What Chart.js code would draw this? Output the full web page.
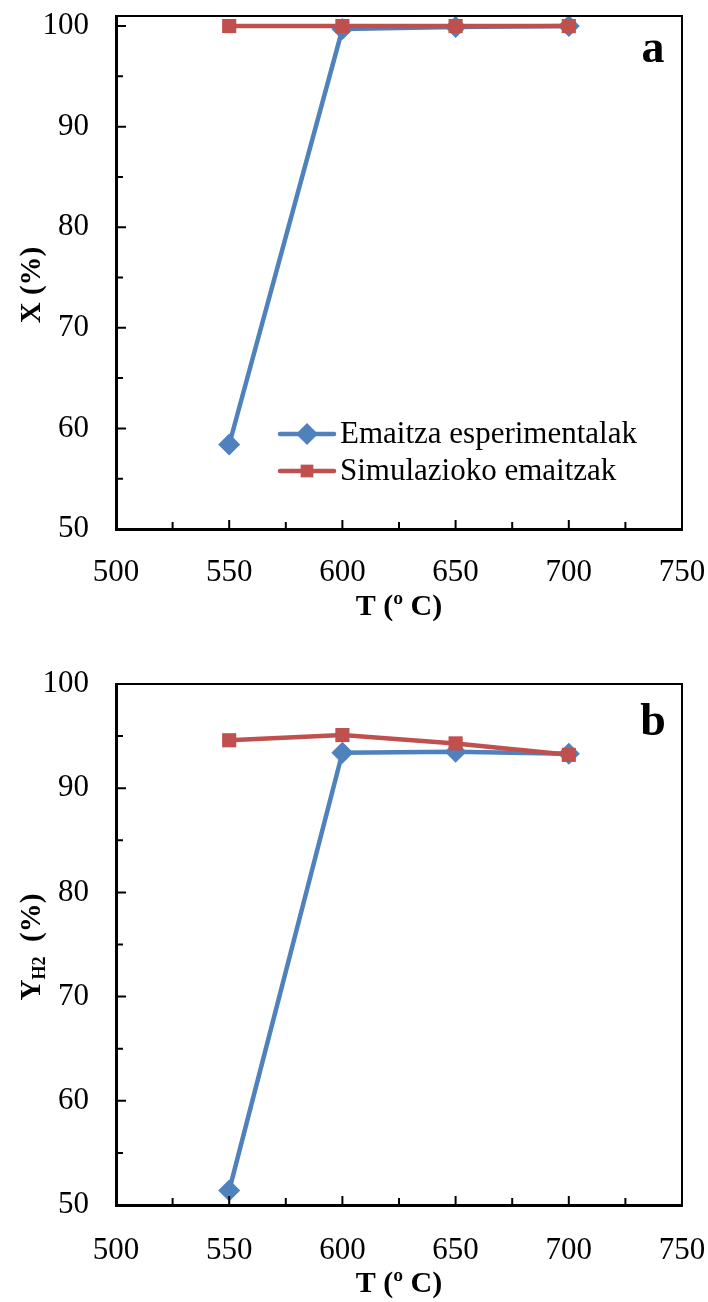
<!DOCTYPE html>
<html>
<head>
<meta charset="utf-8">
<script src="https://cdn.jsdelivr.net/npm/chart.js@4.4.1/dist/chart.umd.min.js"></script>
<style>
  html, body { margin: 0; padding: 0; background: #fff; }
  .panel { position: relative; width: 708px; height: 651px; }
</style>
</head>
<body>
<div class="panel"><canvas id="chartA"></canvas></div>
<div class="panel"><canvas id="chartB"></canvas></div>
<script>
// temperatures (ºC)
const temps = [550, 600, 650, 700];
const seriesNames = ['Emaitza esperimentalak', 'Simulazioko emaitzak'];

// a: conversion X (%)
const convExp = [58.4, 99.7, 99.9, 100.0];
const convSim = [100.0, 100.0, 100.0, 100.0];

// b: H2 yield (%)
const yieldExp = [51.4, 93.4, 93.5, 93.3];
const yieldSim = [94.6, 95.1, 94.3, 93.2];

const xTicks = [500, 550, 600, 650, 700, 750];
const xMinor = [525, 575, 625, 675, 725];
const yTicks = [50, 60, 70, 80, 90, 100];
const yMinor = [55, 65, 75, 85, 95];

const serif = 'Liberation Serif, serif';
const blue = '#4F81BD';
const red = '#C0504D';

Chart.defaults.font.family = serif;
Chart.defaults.font.size = 31;
Chart.defaults.font.weight = 'normal';
Chart.defaults.color = '#000';

// frame, inner tick marks, panel letter, rotated y title and legend
const decorPlugin = {
    id: 'decor',
    afterDraw(chart, args, opts) {
        const { ctx, chartArea: area, scales: { x, y } } = chart;
        ctx.save();
        ctx.strokeStyle = '#000';
        ctx.lineWidth = 2;
        ctx.beginPath();
        ctx.moveTo(area.left, area.top);
        ctx.lineTo(area.right, area.top);
        ctx.lineTo(area.right, area.bottom);
        ctx.stroke();

        ctx.beginPath();
        xTicks.forEach(v => { const px = x.getPixelForValue(v); ctx.moveTo(px, area.bottom); ctx.lineTo(px, area.bottom - 9); });
        xMinor.forEach(v => { const px = x.getPixelForValue(v); ctx.moveTo(px, area.bottom); ctx.lineTo(px, area.bottom - 7); });
        yTicks.forEach(v => { const py = y.getPixelForValue(v); ctx.moveTo(area.left, py); ctx.lineTo(area.left + 10, py); });
        yMinor.forEach(v => { const py = y.getPixelForValue(v); ctx.moveTo(area.left, py); ctx.lineTo(area.left + 7, py); });
        ctx.stroke();

        // panel letter
        ctx.fillStyle = '#000';
        ctx.font = 'bold 46px ' + serif;
        ctx.textAlign = 'center';
        ctx.textBaseline = 'alphabetic';
        ctx.fillText(opts.letter, area.right - 29, area.top + opts.letterDy);

        // y title with optional subscript
        const parts = opts.yTitle;
        let total = 0;
        parts.forEach(p => {
            ctx.font = 'bold ' + p.size + 'px ' + serif;
            p.w = ctx.measureText(p.text).width;
            total += p.w;
        });
        ctx.translate(30, opts.yTitleCenter);
        ctx.rotate(-Math.PI / 2);
        ctx.textAlign = 'left';
        let pos = -total / 2;
        parts.forEach(p => {
            ctx.font = 'bold ' + p.size + 'px ' + serif;
            ctx.fillText(p.text, pos, 10 + (p.dy || 0));
            pos += p.w;
        });
        ctx.restore();

        if (opts.legend) {
            ctx.save();
            const ds = chart.data.datasets;
            const order = [1, 0];
            order.forEach((idx, row) => {
                const d = ds[idx];
                const ly = opts.legend.y + row * 37;
                const x0 = opts.legend.x;
                ctx.strokeStyle = d.borderColor;
                ctx.lineWidth = d.borderWidth;
                ctx.lineCap = 'round';
                ctx.beginPath();
                ctx.moveTo(x0, ly);
                ctx.lineTo(x0 + 54, ly);
                ctx.stroke();
                ctx.fillStyle = d.pointBackgroundColor;
                Chart.helpers.drawPoint(ctx, {
                    pointStyle: d.pointStyle, radius: d.pointStyle === 'rectRot' ? 11 : 9,
                    rotation: 0, borderWidth: 0
                }, x0 + 27, ly);
                ctx.fillStyle = '#000';
                ctx.font = '31px ' + serif;
                ctx.textAlign = 'left';
                ctx.textBaseline = 'middle';
                ctx.fillText(d.label, x0 + 60, ly + 1);
            });
            ctx.restore();
        }
    }
};

function makeChart(id, cfg) {
    const pts = vals => vals.map((v, i) => ({ x: temps[i], y: v }));
    // tick marks are drawn inside by the plugin, so the library's own
    // tick marks are only used as an invisible gap before the labels
    const hiddenTicks = len => ({
        display: true, drawOnChartArea: false, drawTicks: true,
        tickLength: len, tickColor: 'rgba(0,0,0,0)', color: 'rgba(0,0,0,0)'
    });
    const tickFont = { family: serif, size: 31, weight: 'normal', lineHeight: 1 };
    return new Chart(document.getElementById(id), {
        type: 'line',
        data: {
            datasets: [
                {
                    label: seriesNames[1], data: pts(cfg.sim), order: 0,
                    borderColor: red, backgroundColor: red, pointBackgroundColor: red,
                    borderWidth: 4.5, pointStyle: 'rect', pointRadius: 10, pointBorderWidth: 0,
                    pointHoverRadius: 10
                },
                {
                    label: seriesNames[0], data: pts(cfg.exp), order: 1,
                    borderColor: blue, backgroundColor: blue, pointBackgroundColor: blue,
                    borderWidth: 4.5, pointStyle: 'rectRot', pointRadius: 11, pointBorderWidth: 0,
                    pointHoverRadius: 11
                }
            ]
        },
        options: {
            responsive: true,
            maintainAspectRatio: false,
            animation: false,
            events: [],
            layout: { padding: { top: cfg.top, right: 26, left: 0, bottom: 0 } },
            plugins: {
                legend: { display: false },
                tooltip: { enabled: false },
                decor: cfg.decor
            },
            scales: {
                x: {
                    type: 'linear', min: 500, max: 750,
                    afterBuildTicks: s => { s.ticks = xTicks.map(v => ({ value: v })); },
                    afterFit: s => { s.height = cfg.xHeight; },
                    grid: hiddenTicks(cfg.xPad),
                    border: { display: true, color: '#000', width: 3 },
                    ticks: { color: '#000', padding: 0, maxRotation: 0, font: tickFont },
                    title: {
                        display: true, text: 'T (º C)', color: '#000',
                        font: { family: serif, size: 30, weight: 'bold', lineHeight: 1 },
                        padding: { top: 0, bottom: cfg.titlePad }
                    }
                },
                y: {
                    type: 'linear', min: 50, max: cfg.yMax,
                    afterBuildTicks: s => { s.ticks = yTicks.map(v => ({ value: v })); },
                    afterFit: s => { s.width = 116; },
                    grid: hiddenTicks(27),
                    border: { display: true, color: '#000', width: 3 },
                    ticks: { color: '#000', padding: 0, font: tickFont }
                }
            }
        },
        plugins: [decorPlugin]
    });
}

makeChart('chartA', {
    exp: convExp, sim: convSim, yMax: 101, top: 16, xHeight: 122, xPad: 28, titlePad: 29,
    decor: {
        letter: 'a', letterDy: 46, yTitleCenter: 285,
        yTitle: [{ text: 'X (%)', size: 29 }],
        legend: { x: 280, y: 434 }
    }
});

makeChart('chartB', {
    exp: yieldExp, sim: yieldSim, yMax: 100, top: 33, xHeight: 97, xPad: 30, titlePad: 3,
    decor: {
        letter: 'b', letterDy: 51, yTitleCenter: 296,
        yTitle: [{ text: 'Y', size: 29 }, { text: 'H2', size: 18, dy: 5 }, { text: '  (%)', size: 29 }],
        legend: null
    }
});
</script>
</body>
</html>
